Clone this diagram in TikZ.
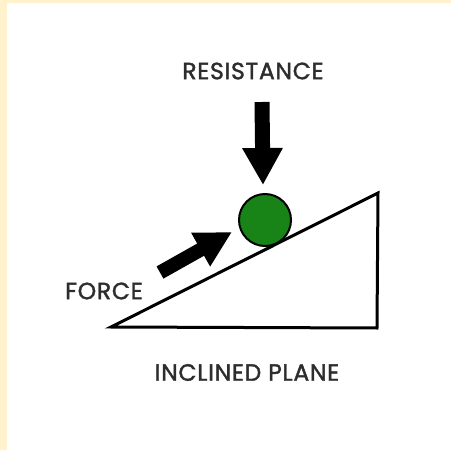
\documentclass[tikz,border=0pt]{standalone}
\usepackage{fontspec}
\setmainfont{Poppins}
\newfontfamily\lblfont{Poppins}[FakeBold=1.6, LetterSpace=3]
\usetikzlibrary{arrows.meta}
\definecolor{cream}{RGB}{255,242,204}
\definecolor{ballgreen}{RGB}{24,132,24}
\definecolor{labelgray}{RGB}{45,45,45}
\begin{document}
\begin{tikzpicture}[x=1pt,y=-1pt,
  lbl/.style={font=\lblfont\fontsize{23.5}{25}\selectfont, text=labelgray, inner sep=0pt, anchor=center},
  bigarrow/.style={line width=15pt, -{Triangle[width=38pt,length=37pt]}},
  ramp/.style={draw=black, line width=3pt, line join=miter}]
\useasboundingbox (0,0) rectangle (451,450);
\fill[cream] (0,0) rectangle (451,450);
\fill[white] (7,3) rectangle (451,450);
% inclined plane
\coordinate (A) at (111,327);
\coordinate (B) at (378,193);
\coordinate (C) at (377,328);
\draw[ramp] (A) -- (B) -- (C) -- cycle;
% ball
\node[circle, draw=black, line width=2pt, fill=ballgreen, minimum size=52pt, inner sep=0pt] (ball) at (265,220) {};
% labels
\node[lbl] (res) at (253,71) {RESISTANCE};
\node[lbl] (force) at (104,291) {FORCE};
\node[lbl] (plane) at (247,372.5) {INCLINED PLANE};
% arrows
\coordinate (rs) at (262,102);
\coordinate (rt) at (263,185);
\draw[bigarrow] (rs) -- (rt);
\coordinate (fs) at (160,272.5);
\coordinate (ft) at (232,232);
\draw[bigarrow, line width=14pt, -{Triangle[width=36pt,length=36pt]}] (fs) -- (ft);
\end{tikzpicture}
\end{document}
